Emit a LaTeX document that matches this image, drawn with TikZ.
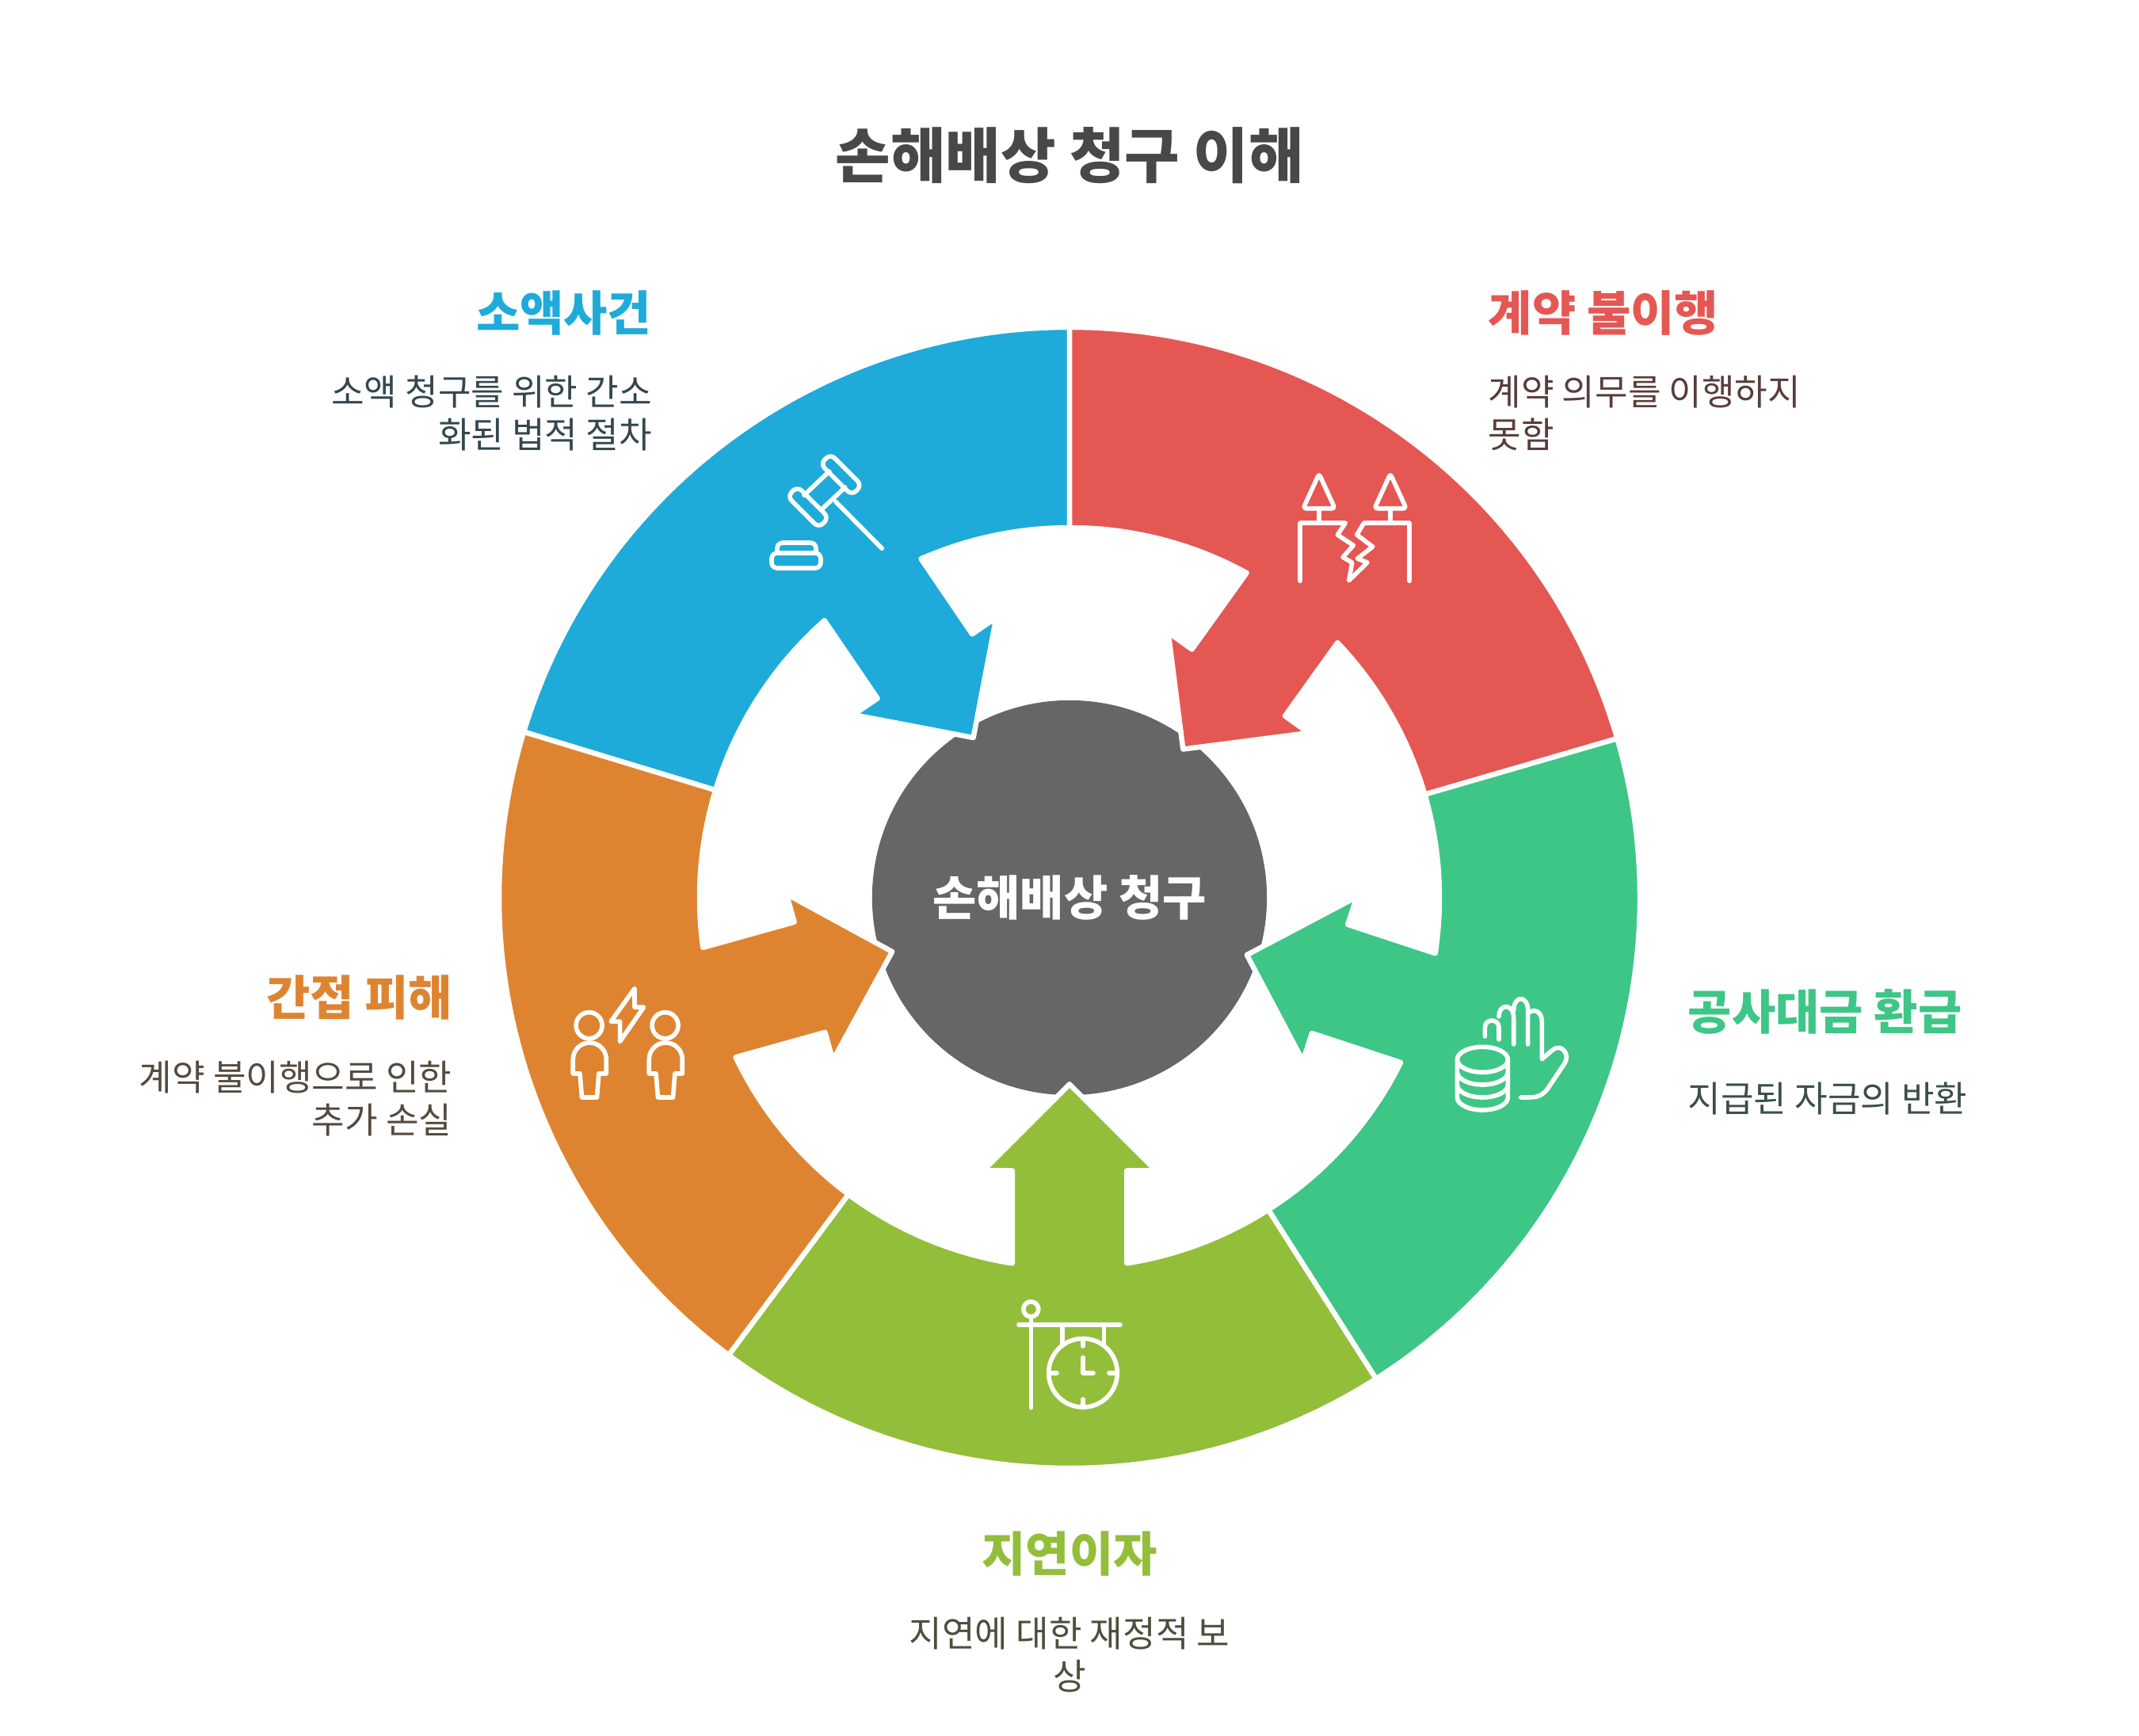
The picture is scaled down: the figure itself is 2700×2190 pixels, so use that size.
\documentclass[tikz,border=0pt]{standalone}
\usepackage{fontspec}
\setmainfont{Noto Sans CJK KR}
\definecolor{clBlue}{HTML}{1EABDA}
\definecolor{clRed}{HTML}{E55753}
\definecolor{clGreen}{HTML}{3EC686}
\definecolor{clLime}{HTML}{93BE3A}
\definecolor{clOrange}{HTML}{DE8431}
\definecolor{clHub}{HTML}{666666}
\definecolor{clTitle}{HTML}{484848}
\definecolor{txBlue}{HTML}{33474F}
\definecolor{txRed}{HTML}{5A3C3C}
\definecolor{txGreen}{HTML}{3B4F46}
\definecolor{txLime}{HTML}{4B4F3B}
\definecolor{txOrange}{HTML}{554A3F}
\newcommand{\headfont}{\bfseries\fontsize{17.1}{20}\selectfont}
\newcommand{\bodyfont}{\fontsize{12.85}{15.5}\selectfont}
% colour, outer arc from/to, arrow origin x,y, axis angle, shaft corners, tip skew
\newcommand{\sectorwedge}[9]{\draw[wedge,fill=#1] (#2:720) arc[start angle=#2,end angle=#3,radius=720]
  -- (#3:467) arc[start angle=#3,end angle=#7,radius=467]
  -- ([shift={(#4,#5)},rotate=#6]109,-72.25) -- ([shift={(#4,#5)},rotate=#6]109,-109)
  -- ([shift={(#4,#5)},rotate=#6]0,#9) -- ([shift={(#4,#5)},rotate=#6]109,109) -- ([shift={(#4,#5)},rotate=#6]109,72.25)
  -- (#8:467) arc[start angle=#8,end angle=#2,radius=467] -- cycle;}
\tikzset{
  wedge/.style={draw=white,line width=1.85pt,line join=round},
  iconline/.style={draw=white,line width=1.6pt,line cap=round,line join=round},
  pixels/.style={shift={(0,2190)},yscale=-1},
  headlabel/.style={inner sep=0pt,font=\headfont},
  bodylabel/.style={inner sep=0pt,font=\bodyfont}
}
\begin{document}
\begin{tikzpicture}[x=0.01cm,y=0.01cm]
  \useasboundingbox (0,0) rectangle (2700,2190);
  \node[circle,fill=clHub,text=white,inner sep=0pt,minimum size=4.98cm,font=\headfont] (hub) at (1350,1057) {손해배상 청구};
  % ring parts
  \begin{scope}[shift={(1350,1057)}]
    \sectorwedge{clBlue}{163.1}{90}{-121.4}{202}{124.2}{113.67}{131.48}{0}
    \sectorwedge{clRed}{90}{16.2}{149.8}{182.8}{54.4}{43.58}{61.39}{8}
    \sectorwedge{clGreen}{16.2}{-57.5}{225.1}{-68.4}{-18.2}{-26.45}{-8.65}{-4}
    \sectorwedge{clLime}{-57.5}{-126.7}{0}{-235.4}{-90}{-98.9}{-81.1}{0}
    \sectorwedge{clOrange}{233.3}{163.1}{-223}{-71}{195.6}{187.74}{205.54}{-3}
  \end{scope}
  \begin{scope}[pixels]
    % texts
    \node[inner sep=0pt,anchor=north,font=\bfseries\fontsize{21.5}{25}\selectfont,text=clTitle] (title) at (1350,160) {손해배상 청구 이해};
    \node[headlabel,anchor=north west,text=clRed] (redhead) at (1878,366) {계약 불이행};
    \node[bodylabel,anchor=north west,align=left,text=txRed] (redbody) at (1878,473) {계약 의무를 이행하지\\못함};
    \node[headlabel,anchor=north east,text=clBlue] (bluehead) at (823,366) {소액사건};
    \node[bodylabel,anchor=north east,align=right,text=txBlue] (bluebody) at (823.5,473) {소액 청구를 위한 간소\\화된 법적 절차};
    \node[headlabel,anchor=north west,text=clGreen] (greenhead) at (2130,1248) {공사대금 환급};
    \node[bodylabel,anchor=north west,text=txGreen] (greenbody) at (2130,1365) {지급된 자금의 반환};
    \node[headlabel,anchor=north east,text=clOrange] (orangehead) at (572,1230) {간접 피해};
    \node[bodylabel,anchor=north east,align=right,text=txOrange] (orangebody) at (571,1338) {계약 불이행으로 인한\\추가 손실};
    \node[headlabel,anchor=north,text=clLime] (limehead) at (1350,1932) {지연이자};
    \node[bodylabel,anchor=north,align=center,text=txLime] (limebody) at (1350,2040) {지연에 대한 재정적 보\\상};
    % gavel
    \draw[iconline,rotate around={45:(1061.7,599)},rounded corners=2.2pt] (1033.7,590) rectangle (1089.7,608);
    \draw[iconline,rotate around={45:(1020,640)},rounded corners=2.2pt] (992,631) rectangle (1048,649);
    \draw[iconline] (1015,625) -- (1046.7,595) (1036.7,643.3) -- (1066.7,615) (1055,633.3) -- (1113.3,692.3);
    \draw[iconline,rounded corners=2pt] (981,698) -- (981,685) -- (1030,685) -- (1030,698);
    \draw[iconline,rounded corners=2pt] (974,698) rectangle (1036,717);
    % broken bridge
    \draw[iconline,rounded corners=1pt] (1665,598) -- (1685,641.7) -- (1645,641.7) -- cycle;
    \draw[iconline,rounded corners=1pt] (1755,598) -- (1775,641.7) -- (1735,641.7) -- cycle;
    \draw[iconline] (1665,641.7) -- (1665,660) (1755,641.7) -- (1755,660);
    \draw[iconline] (1641,733.3) -- (1641,660) -- (1698.3,660) -- (1688.3,675) -- (1708.3,688.3) -- (1695,703.3) -- (1706.7,710) -- (1702.7,732.7) -- (1726,710) -- (1713.3,705) -- (1732.7,690) -- (1712.7,675) -- (1721.7,660) -- (1779,660) -- (1779,733.3);
    % coins and hand
    \draw[iconline] (1871.4,1337.3) ellipse[x radius=32,y radius=16];
    \draw[iconline] (1839.4,1337.3) -- (1839.4,1385) arc[start angle=180,end angle=0,x radius=32,y radius=16] -- (1903.4,1337.3);
    \draw[iconline] (1839.4,1353) arc[start angle=180,end angle=0,x radius=32,y radius=16];
    \draw[iconline] (1839.4,1369) arc[start angle=180,end angle=0,x radius=32,y radius=16];
    \draw[iconline] (1874.3,1308) -- (1874.3,1297) .. controls (1874.3,1285) and (1892,1285) .. (1892,1297) -- (1892,1312);
    \draw[iconline] (1892,1283) .. controls (1892,1266) and (1910.7,1266) .. (1910.7,1285) -- (1910.7,1318);
    \draw[iconline] (1910.7,1275) .. controls (1910.7,1256) and (1928.6,1256) .. (1928.6,1275) -- (1928.6,1318);
    \draw[iconline] (1928.6,1279) .. controls (1936,1272) and (1946.4,1276) .. (1946.4,1290) -- (1946.4,1336.7) -- (1960,1325) .. controls (1972,1316) and (1982,1332) .. (1975,1342) -- (1955,1372) .. controls (1948,1382) and (1942,1385) .. (1930,1385) -- (1919.6,1385);
    % two persons and bolt
    \foreach \dx in {0,96}{
      \draw[iconline] (743.6+\dx,1294.2) circle[radius=16.5];
      \draw[iconline] (723.3+\dx,1355) -- (723.3+\dx,1337) arc[start angle=180,end angle=360,radius=21] -- (765.3+\dx,1355) -- (755.9+\dx,1355) -- (753.5+\dx,1385) -- (734.5+\dx,1385) -- (732+\dx,1355) -- cycle;
    }
    \draw[iconline] (801,1247.5) -- (801,1271.2) -- (812.5,1271.2) -- (782.6,1314.5) -- (782.6,1289.2) -- (771.2,1289.2) -- cycle;
    % sign with clock
    \draw[iconline] (1301.3,1652.3) circle[radius=9.5];
    \draw[iconline] (1301.3,1662) -- (1301.3,1776.7) (1286,1672) -- (1414,1672) (1341,1672) -- (1341,1696) (1393.3,1672) -- (1393.3,1696);
    \draw[iconline] (1367,1732.7) circle[radius=43.3];
    \draw[iconline] (1367,1692) -- (1367,1699) (1367,1766) -- (1367,1773) (1327,1732.7) -- (1334,1732.7) (1400,1732.7) -- (1407,1732.7);
    \draw[iconline] (1367,1713.3) -- (1367,1732.7) -- (1380,1732.7);
  \end{scope}
\end{tikzpicture}
\end{document}
